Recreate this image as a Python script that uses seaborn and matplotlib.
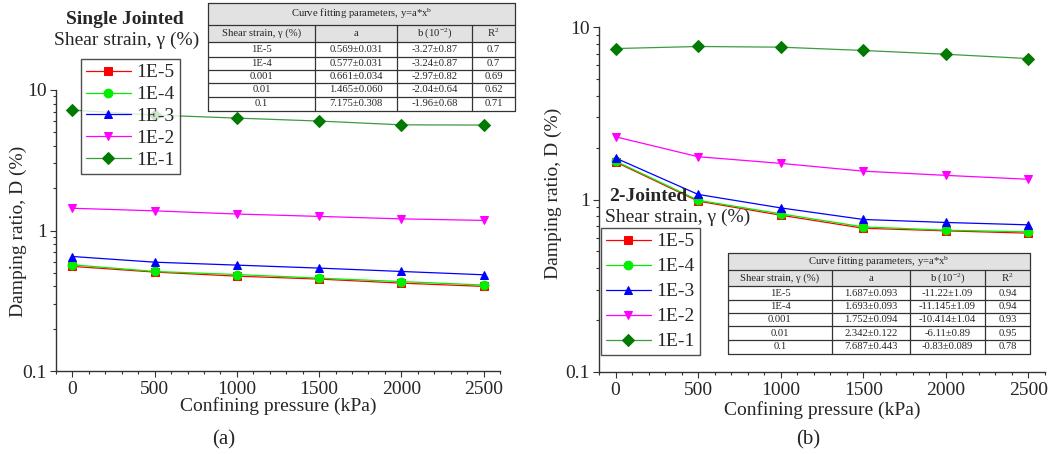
import matplotlib
matplotlib.use("Agg")
import matplotlib.pyplot as plt
from matplotlib.ticker import FixedLocator, FixedFormatter, MultipleLocator, NullFormatter
import seaborn as sns

# ---------------- data ----------------
pressure = [0, 500, 1000, 1500, 2000, 2500]
strain_labels = ["1E-5", "1E-4", "1E-3", "1E-2", "1E-1"]

single_1e5 = [0.555, 0.506, 0.473, 0.451, 0.422, 0.400]
single_1e4 = [0.570, 0.511, 0.486, 0.458, 0.433, 0.409]
single_1e3 = [0.653, 0.595, 0.567, 0.540, 0.511, 0.484]
single_1e2 = [1.44, 1.38, 1.31, 1.26, 1.21, 1.18]
single_1e1 = [7.19, 6.63, 6.31, 6.01, 5.65, 5.63]

two_1e5 = [1.65, 0.978, 0.811, 0.681, 0.658, 0.638]
two_1e4 = [1.67, 0.990, 0.826, 0.694, 0.664, 0.649]
two_1e3 = [1.74, 1.07, 0.894, 0.766, 0.736, 0.713]
two_1e2 = [2.31, 1.77, 1.62, 1.46, 1.38, 1.31]
two_1e1 = [7.50, 7.71, 7.64, 7.31, 6.95, 6.56]

table_title = r"Curve fitting parameters, y=a*x$^{\mathrm{b}}$"
table_header = [r"Shear strain, γ (%)", "a", r"b (10$^{-2}$)", r"R$^{2}$"]
table_strain = ["1E-5", "1E-4", "0.001", "0.01", "0.1"]
single_a = ["0.569±0.031", "0.577±0.031", "0.661±0.034", "1.465±0.060", "7.175±0.308"]
single_b = ["-3.27±0.87", "-3.24±0.87", "-2.97±0.82", "-2.04±0.64", "-1.96±0.68"]
single_r2 = ["0.7", "0.7", "0.69", "0.62", "0.71"]
two_a = ["1.687±0.093", "1.693±0.093", "1.752±0.094", "2.342±0.122", "7.687±0.443"]
two_b = ["-11.22±1.09", "-11.145±1.09", "-10.414±1.04", "-6.11±0.89", "-0.83±0.089"]
two_r2 = ["0.94", "0.94", "0.93", "0.95", "0.78"]

# ---------------- style ----------------
sns.set_theme(style="ticks")
plt.rcParams["font.family"] = ["Liberation Serif", "DejaVu Serif"]
plt.rcParams["mathtext.fontset"] = "custom"
plt.rcParams["mathtext.rm"] = "Liberation Serif"
plt.rcParams["mathtext.it"] = "Liberation Serif:italic"
plt.rcParams["mathtext.bf"] = "Liberation Serif:bold"

colors = ["#ff0000", "#00ee00", "#0000ff", "#ff00ff", "#007a00"]
line_colors = ["#ff0000", "#00ee00", "#0000ff", "#ff00ff", "#3f9a3f"]
markers = ["s", "o", "^", "v", "D"]

W, H = 1059, 454
fig = plt.figure(figsize=(W / 100, H / 100), dpi=100)


def rect(x0, y0, x1, y1):
    return [x0 / W, 1 - y1 / H, (x1 - x0) / W, (y1 - y0) / H]


FS = 14


def setup_axis(ax):
    ax.set_yscale("log")
    ax.set_xlim(-100, 2600)
    ax.set_ylim(0.1, 10)
    ax.yaxis.set_major_locator(FixedLocator([0.1, 1, 10]))
    ax.yaxis.set_major_formatter(FixedFormatter(["0.1", "1", "10"]))
    minors = [m * d for d in (0.1, 1) for m in range(2, 10)]
    ax.yaxis.set_minor_locator(FixedLocator(minors))
    ax.yaxis.set_minor_formatter(NullFormatter())
    ax.xaxis.set_major_locator(FixedLocator(pressure))
    ax.xaxis.set_minor_locator(MultipleLocator(100))
    for s in ("top", "right"):
        ax.spines[s].set_visible(False)
    for s in ("left", "bottom"):
        ax.spines[s].set_color("#333333")
        ax.spines[s].set_linewidth(1.0)
    ax.tick_params(which="major", direction="out", length=4, width=0.8,
                   labelsize=FS, color="#333333", pad=2.5)
    ax.tick_params(which="minor", direction="out", length=2.4, width=0.8,
                   color="#333333")
    ax.tick_params(axis="x", which="major", pad=3)
    ax.set_xlabel("Confining pressure (kPa)", fontsize=FS)
    ax.set_ylabel("Damping ratio, D (%)", fontsize=FS)
    ax.xaxis.label.set_va("center")
    ax.yaxis.label.set_va("center")


def draw_series(ax, series):
    for vals, c, lc, m in zip(series, colors, line_colors, markers):
        sns.lineplot(x=pressure, y=vals, ax=ax, color=lc, marker=m,
                     markersize=6.3, markerfacecolor=c, markeredgecolor=c,
                     linewidth=0.9, legend=False)
    return ax.get_lines()[:len(series)]


def draw_table(r, title, header, strain, a, b, r2, col_edges, row_h):
    tax = fig.add_axes(r)
    tax.set_xlim(0, 1)
    tax.set_ylim(1, 0)
    tax.axis("off")
    total = sum(row_h)
    ys = [0]
    for h in row_h:
        ys.append(ys[-1] + h / total)
    # grey header backgrounds
    tax.add_patch(plt.Rectangle((0, ys[0]), 1, ys[2] - ys[0], color="#e2e2e2", lw=0))
    lw = 0.9
    for y in ys:
        tax.plot([0, 1], [y, y], color="#333333", lw=lw, clip_on=False)
    tax.plot([0, 0], [0, 1], color="#333333", lw=lw, clip_on=False)
    tax.plot([1, 1], [0, 1], color="#333333", lw=lw, clip_on=False)
    for x in col_edges[1:-1]:
        tax.plot([x, x], [ys[1], 1], color="#333333", lw=lw, clip_on=False)
    tfs = 7.7
    tax.text(0.5, (ys[0] + ys[1]) / 2, title, ha="center", va="center", fontsize=tfs)
    rows = [header] + [list(t) for t in zip(strain, a, b, r2)]
    for i, row in enumerate(rows):
        yc = (ys[i + 1] + ys[i + 2]) / 2
        for j, txt in enumerate(row):
            xc = (col_edges[j] + col_edges[j + 1]) / 2
            tax.text(xc, yc, txt, ha="center", va="center", fontsize=tfs)


# ---------------- panel (a) ----------------
ax1 = fig.add_axes(rect(56, 90, 500, 371))
lines1 = draw_series(ax1, [single_1e5, single_1e4, single_1e3, single_1e2, single_1e1])
setup_axis(ax1)
ax1.xaxis.set_label_coords(0.5, (371 - 406) / 281)
ax1.yaxis.set_label_coords((18 - 56) / 444, (371 - 231) / 281)

fig.text(125 / W, 1 - 20 / H, "Single Jointed", ha="center", va="center",
         fontsize=FS, fontweight="bold")
fig.text(127 / W, 1 - 40 / H, "Shear strain, γ (%)", ha="center", va="center", fontsize=FS)
leg1 = fig.legend(lines1, strain_labels, loc="upper left",
                  bbox_to_anchor=(81 / W, 1 - 59 / H), fontsize=FS,
                  frameon=True, fancybox=False, edgecolor="#222222",
                  borderaxespad=0, borderpad=0.25, labelspacing=0.22,
                  handlelength=2.3, handletextpad=0.3)
leg1.get_frame().set_linewidth(1.0)

tw = 515 - 208
draw_table(rect(208, 3, 515, 111), table_title, table_header, table_strain,
           single_a, single_b, single_r2,
           [0, (315 - 208) / tw, (397 - 208) / tw, (472 - 208) / tw, 1],
           [21.7, 16.7, 15, 13.3, 13.3, 13.4, 14.3])

fig.text(224 / W, 1 - 440 / H, "(a)", ha="center", va="center", fontsize=FS + 1)

# ---------------- panel (b) ----------------
ax2 = fig.add_axes(rect(599, 27, 1045, 372))
lines2 = draw_series(ax2, [two_1e5, two_1e4, two_1e3, two_1e2, two_1e1])
setup_axis(ax2)
ax2.xaxis.set_label_coords(0.5, (372 - 410) / 345)
ax2.yaxis.set_label_coords((553 - 599) / 446, (372 - 193) / 345)

fig.text(609 / W, 1 - 197 / H, "2-Jointed", ha="left", va="center",
         fontsize=FS, fontweight="bold")
fig.text(605 / W, 1 - 217 / H, "Shear strain, γ (%)", ha="left", va="center", fontsize=FS)
leg2 = fig.legend(lines2, strain_labels, loc="upper left",
                  bbox_to_anchor=(601 / W, 1 - 228 / H), fontsize=FS,
                  frameon=True, fancybox=False, edgecolor="#222222",
                  borderaxespad=0, borderpad=0.25, labelspacing=0.38,
                  handlelength=2.3, handletextpad=0.3)
leg2.get_frame().set_linewidth(1.0)

tw2 = 1030 - 728
draw_table(rect(728, 253, 1030, 354), table_title, table_header, table_strain,
           two_a, two_b, two_r2,
           [0, (832 - 728) / tw2, (910 - 728) / tw2, (985 - 728) / tw2, 1],
           [16.7, 16.7, 13.3, 13.3, 13.4, 13.3, 14.3])

fig.text(808 / W, 1 - 440 / H, "(b)", ha="center", va="center", fontsize=FS + 1)

fig.savefig("out.png", dpi=100, facecolor="white")
